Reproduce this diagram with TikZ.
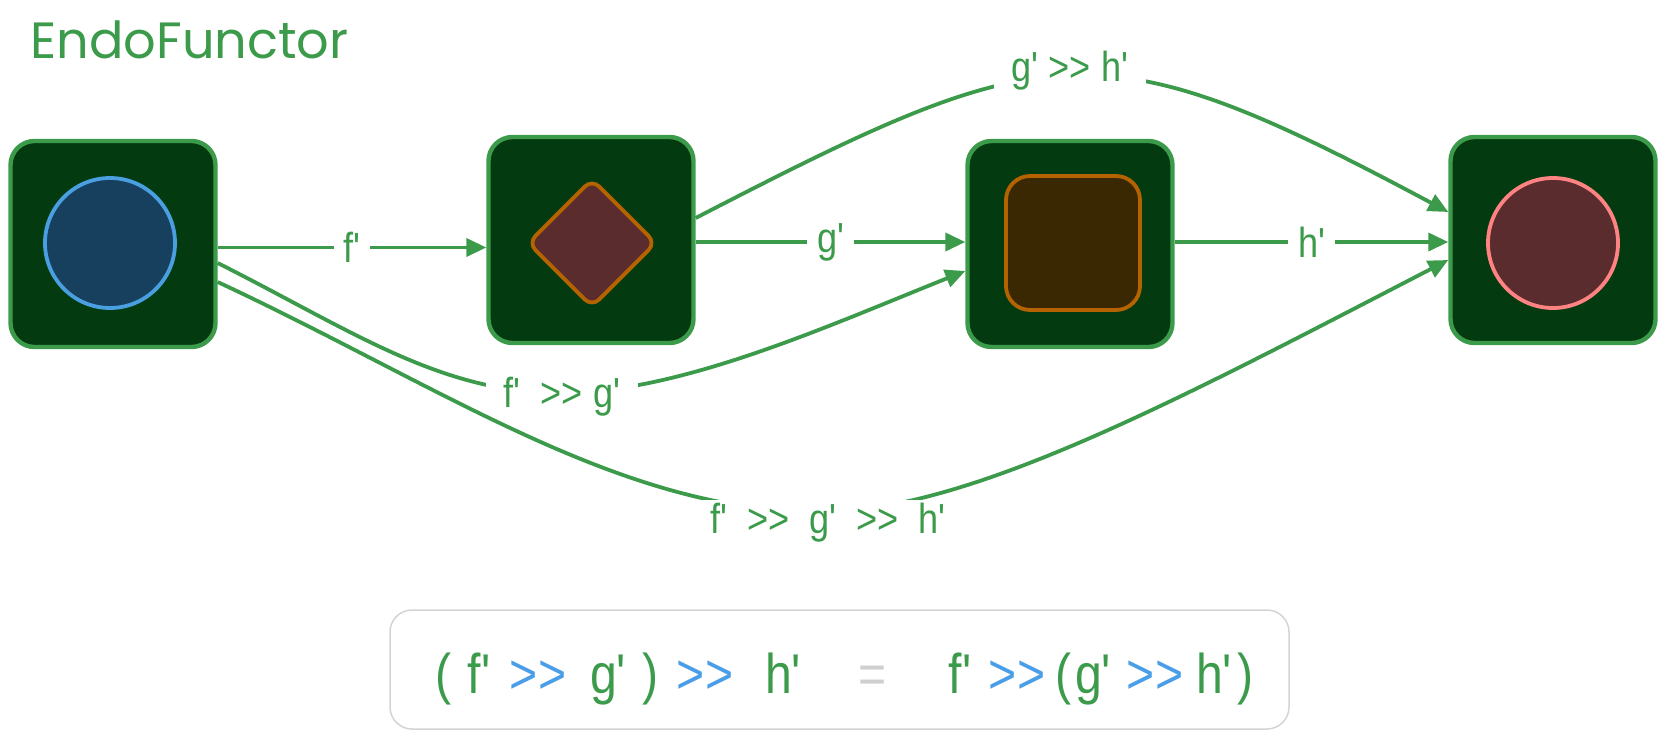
\documentclass[tikz,border=0pt]{standalone}
\usepackage{fontspec}
\setmainfont{Liberation Sans}[Ligatures=TeXOff,FakeStretch=0.86]
\newfontfamily\handfont{Poppins}
\usetikzlibrary{arrows.meta,positioning}
\definecolor{arrgreen}{HTML}{3C9B4B}
\definecolor{boxgreen}{HTML}{043A10}
\definecolor{objblue}{HTML}{4A9FE0}
\definecolor{objbluefill}{HTML}{17405F}
\definecolor{objorange}{HTML}{B46300}
\definecolor{objmaroon}{HTML}{5A2C2D}
\definecolor{objbrown}{HTML}{3A2802}
\definecolor{objpink}{HTML}{FF8383}
\definecolor{opblue}{HTML}{4A9EE8}
\definecolor{eqgray}{HTML}{CFCFCF}
\definecolor{framegray}{HTML}{D4D4D4}
\tikzset{
  catbox/.style={draw=arrgreen,fill=boxgreen,line width=2.2pt,rounded corners=12pt,
    minimum width=102.5pt,minimum height=103pt,inner sep=0pt},
  obj/.style={line width=1.9pt,inner sep=0pt},
  morph/.style={arrgreen,line width=1.9pt,-{Triangle[length=10pt,width=9pt]}},
  lbl/.style={fill=white,text=arrgreen,inner xsep=5pt,inner ysep=1.5pt,
    font=\fontsize{21}{21}\selectfont},
  eqtok/.style={anchor=base,inner sep=0pt,font=\fontsize{28}{28}\selectfont},
}

\begin{document}
\begin{tikzpicture}[x=0.5pt,y=-0.5pt]
  \useasboundingbox (0,0) rectangle (1666,740);
  \node[anchor=base west,inner sep=0pt,text=arrgreen,font={\handfont\fontsize{25.5}{25.5}\selectfont}] (title) at (30,58) {EndoFunctor};

  % objects
  \node[catbox] (A) at (113,244) {};
  \node[catbox] (B) at (591,240) {};
  \node[catbox] (C) at (1070,244) {};
  \node[catbox] (D) at (1553,240) {};
  \node[obj,circle,draw=objblue,fill=objbluefill,minimum size=65pt] (a) at (110,243) {};
  \node[obj,draw=objorange,fill=objmaroon,minimum size=45pt,rotate=45,rounded corners=5pt] (b) at (592,243) {};
  \node[obj,draw=objorange,fill=objbrown,minimum size=67pt,rounded corners=12pt] (c) at (1073,243) {};
  \node[obj,circle,draw=objpink,fill=objmaroon,minimum size=65pt] (d) at (1553,243) {};

  % single arrows
  \path ([yshift=-1.75pt]A.east) coordinate (fs)
        ([yshift=-1pt]B.east) coordinate (gs)
        ([yshift=1pt]C.east) coordinate (hs);
  \draw[morph] (fs) -- node[lbl] {f'} (fs -| B.west);
  \draw[morph] (gs) -- node[lbl] {g'} (gs -| C.west);
  \draw[morph] (hs) -- node[lbl] {h'} (hs -| D.west);

  % composites
  \coordinate (fgmid) at (560,393);
  \coordinate (fghmid) at (820,512);
  \draw[morph] ([yshift=-9.5pt]A.east) .. controls +(133,67) and +(-120,0) .. (fgmid)
    .. controls +(120,0) and +(-140,56) .. ([yshift=-13.5pt]C.west);
  \node[lbl,inner xsep=9pt] (fg) at (562,397) {f'\ \ >> g'};
  \draw[morph] ([yshift=-19pt]A.east) .. controls +(225,105) and +(-200,0) .. (fghmid)
    .. controls +(150,0) and +(-267,138) .. ([yshift=-10pt]D.west);
  \node[lbl,inner xsep=9pt] (fgh) at (828,523) {f'\ \ >>\ \ g'\ \ >>\ \ h'};
  \draw[morph] ([yshift=11pt]B.east) .. controls +(354,-183) and +(-350,-187) .. ([yshift=14pt]D.west);
  \node[lbl,inner xsep=9pt] (gh) at (1070,71) {g' >> h'};

  % associativity
  \node[draw=framegray,line width=0.75pt,rounded corners=11pt,minimum width=449.5pt,minimum height=59.5pt] (eqbox) at (839.5,669.5) {};
  \foreach \px/\tok/\col [count=\i] in {444/{(}/arrgreen, 479/f'/arrgreen, 538/>>/opblue,
      608/g'/arrgreen, 651/{)}/arrgreen, 705/>>/opblue, 783/h'/arrgreen, 873/=/eqgray,
      960/f'/arrgreen, 1017/>>/opblue, 1064/{(}/arrgreen, 1093/g'/arrgreen,
      1155/>>/opblue, 1214/h'/arrgreen, 1246/{)}/arrgreen}
    \node[eqtok,text=\col] (eq\i) at (\px,693) {\tok};
\end{tikzpicture}
\end{document}
